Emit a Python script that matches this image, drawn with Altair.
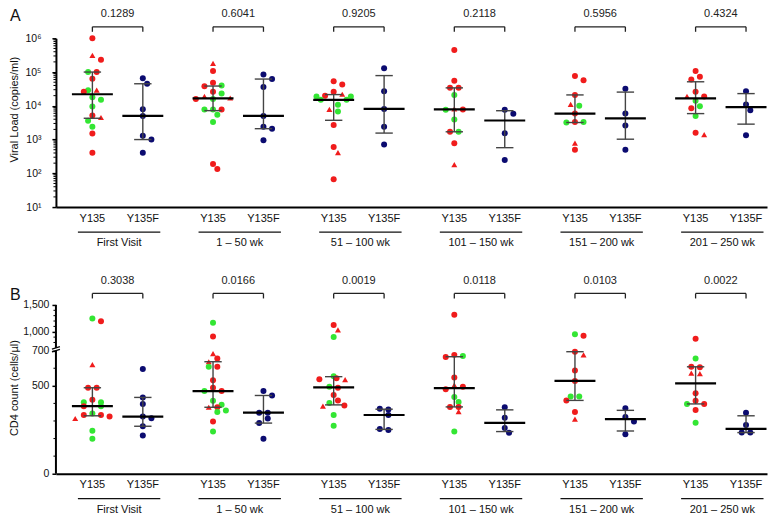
import numpy as np
import pandas as pd
import altair as alt

# ---------------- data ----------------
GROUPS = ["First Visit", "1 – 50 wk", "51 – 100 wk", "101 – 150 wk", "151 – 200 wk", "201 – 250 wk"]
CATS = ["Y135", "Y135F"]

# Panel A: viral load (copies/ml). kinds: r = red circle, t = red triangle, g = green circle
A_Y135 = [
    [1.0e6, 3.1e5, 2.3e5, 1.0e5, 1.0e5, 6.3e4, 2.9e4, 2.9e4, 2.6e4, 1.8e4, 1.5e4, 9.6e3, 5.2e3, 4.5e3, 3.6e3, 2.4e3, 1.5e3, 4.1e2],
    [1.8e5, 1.07e5, 4.8e4, 4.0e4, 3.8e4, 2.6e4, 2.3e4, 1.9e4, 1.6e4, 1.6e4, 1.7e4, 7.8e3, 7.8e3, 7.8e3, 5.4e3, 3.3e3, 1.9e2, 1.35e2],
    [5.3e4, 4.3e4, 2.6e4, 2.0e4, 1.9e4, 2.2e4, 1.9e4, 1.5e4, 1.5e4, 1.07e4, 7.8e3, 6.8e3, 2.7e3, 6.0e2, 4.1e2, 6.7e1],
    [4.5e5, 5.5e4, 3.4e4, 3.4e4, 2.1e4, 8.1e3, 7.8e3, 7.6e3, 3.9e3, 1.7e3, 1.7e3, 7.8e2, 1.8e2],
    [7.7e4, 5.7e4, 2.1e4, 1.1e4, 1.0e4, 5.9e3, 3.3e3, 3.2e3, 3.3e3, 7.8e2, 5.0e2],
    [1.07e5, 7.2e4, 6.0e4, 2.6e4, 1.9e4, 1.9e4, 1.4e4, 9.7e3, 8.5e3, 5.0e3, 1.6e3, 1.4e3],
]
A_Y135_KIND = [
    "rtrgrrgtrgggrtggrr",
    "trrgrrgtgrtgrgggrr",
    "rrrrgtggggtgrrtr",
    "rrrrgtrggrgrt",
    "rrrtgrrggtr",
    "rrrrrtggrgrt",
]
A_Y135F = [
    [6.5e4, 4.5e4, 7.9e3, 5.0e3, 1.3e3, 1.0e3, 4.1e2],
    [8.5e4, 6.2e4, 3.6e4, 5.0e3, 2.4e3, 2.1e3, 9.5e2],
    [1.3e5, 2.7e4, 8.1e3, 2.4e3, 7.1e2],
    [7.6e3, 5.8e3, 1.55e3, 2.5e2],
    [3.2e4, 5.9e3, 2.6e3, 5.0e2],
    [2.7e4, 1.1e4, 7.4e3, 1.35e3],
]
A_PVALUES = ["0.1289", "0.6041", "0.9205", "0.2118", "0.5956", "0.4324"]

# Panel B: CD4 count (cells/µl)
B_Y135 = [
    [1245, 1198, 620, 489, 489, 421, 406, 384, 384, 407, 334, 325, 314, 334, 343, 245, 199],
    [1167, 913, 683, 637, 655, 609, 609, 532, 489, 470, 470, 415, 393, 378, 378, 351, 360, 297, 240],
    [1125, 1035, 900, 555, 535, 537, 543, 494, 489, 448, 417, 402, 384, 388, 334, 273],
    [1318, 670, 664, 676, 547, 494, 504, 480, 436, 408, 380, 380, 353, 240],
    [955, 925, 676, 694, 587, 528, 439, 439, 417, 351, 310],
    [871, 655, 609, 606, 572, 569, 458, 415, 397, 397, 362, 290],
]
B_Y135_KIND = [
    "grtrrrgrggrrtrggg",
    "grttrgrrrrgggrtggrg",
    "rtggtrrgrrrgtrgg",
    "rgrrrrtrggrrtg",
    "grtrrrggrrt",
    "rgrrttrrrgrg",
]
B_Y135F = [
    [596, 434, 397, 325, 315, 270, 218],
    [471, 445, 347, 347, 314, 288, 199],
    [369, 365, 334, 255, 249],
    [378, 319, 260, 233],
    [373, 323, 297, 225],
    [347, 277, 234, 234],
]
B_PVALUES = ["0.3038", "0.0166", "0.0019", "0.0118", "0.0103", "0.0022"]

A_TICKS = [10, 100, 1000, 10000, 100000, 1000000]
A_MINOR = [k * 10 ** e for e in range(1, 6) for k in range(2, 10)]
B_TICKS = [0, 500, 700, 1000, 1500]
B_MINOR = [100, 200, 300, 400, 600, 800, 900, 1100, 1200, 1300, 1400]

# ---------------- styling / layout ----------------
RED, GREEN, NAVY, GRAY = "#f01c1c", "#33e633", "#0b0b70", "#444444"
FONT = "Liberation Sans"
W, HA, HB = 712, 169, 169
PPU = 50.5                      # pixels per x unit (distance Y135 -> Y135F)
STEP = 120.8 / PPU              # distance between groups
X_LO = -36.5 / PPU
XDOM = [X_LO, X_LO + W / PPU]

BRK_LO, BRK_GAP, BRK_K = 700.0, 16.0, 0.305


def disp(v):
    return v if v <= BRK_LO else BRK_LO + BRK_GAP + (v - BRK_LO) * BRK_K


B_TOP = round(disp(1500), 6)


def disp_expr(f):
    return (f"datum['{f}'] <= {BRK_LO} ? datum['{f}'] : "
            f"{BRK_LO + BRK_GAP} + (datum['{f}'] - {BRK_LO}) * {BRK_K}")


def px_a(v):
    return (6 - np.log10(v)) / 5 * HA


def px_b(v):
    return (B_TOP - disp(v)) / B_TOP * HB


def swarm(ypx, s=4.3, d=6.4):
    n = len(ypx)
    order = sorted(range(n), key=lambda i: ypx[i])
    placed, off = [], [0.0] * n
    for i in order:
        y = ypx[i]
        chosen, k = None, 0
        while chosen is None:
            cands = [0.0] if k == 0 else [k * s, -k * s]
            for c in cands:
                if all((c - px) ** 2 + (y - py) ** 2 >= d * d for px, py in placed):
                    chosen = c
                    break
            k += 1
        off[i] = chosen
        placed.append((chosen, y))
    rows = []
    for i in order:
        if rows and abs(ypx[i] - ypx[rows[-1][-1]]) < 1.5:
            rows[-1].append(i)
        else:
            rows.append([i])
    for r in rows:
        if len(r) > 1:
            m = float(np.mean([off[i] for i in r]))
            for i in r:
                off[i] -= m
    return off


def build(y135, kinds, y135f, to_px):
    pts, summ, caps = [], [], []
    for g in range(6):
        for c, (vals, kk) in enumerate([(y135[g], kinds[g]), (y135f[g], "n" * len(y135f[g]))]):
            base = g * STEP + c
            offs = swarm([to_px(v) for v in vals])
            for v, k, o in zip(vals, kk, offs):
                pts.append(dict(x=base + o / PPU, v=float(v), kind=k))
            a = np.asarray(vals, float)
            q1 = float(np.percentile(a, 25, method="weibull"))
            q3 = float(np.percentile(a, 75, method="weibull"))
            med = float(np.median(a))
            summ.append(dict(x=base, q1=q1, q3=q3, med=med,
                             mlo=base - 20.5 / PPU, mhi=base + 20.5 / PPU))
            for q in (q1, q3):
                caps.append(dict(clo=base - 8.7 / PPU, chi=base + 8.7 / PPU, q=q))
    return pd.DataFrame(pts), pd.DataFrame(summ), pd.DataFrame(caps)


ann = pd.DataFrame({
    "x1": [g * STEP for g in range(6)],
    "x2": [g * STEP + 1 for g in range(6)],
    "xm": [g * STEP + 0.5 for g in range(6)],
    "ulo": [g * STEP - 14.5 / PPU for g in range(6)],
    "uhi": [g * STEP + 1 + 17.5 / PPU for g in range(6)],
    "group": GROUPS,
})
ann["umid"] = (ann["ulo"] + ann["uhi"]) / 2
legs = pd.DataFrame({"x": [g * STEP + c for g in range(6) for c in range(2)],
                     "t": [CATS[c] for g in range(6) for c in range(2)]})

XS = alt.Scale(domain=XDOM, nice=False, zero=False)
XAXIS = alt.Axis(ticks=False, labels=False, title=None, domainWidth=2,
                 domainColor="black", grid=False)

sup = {1: "¹", 2: "²", 3: "³", 4: "⁴", 5: "⁵", 6: "⁶"}
labexpr_a = " : ".join(
    [f"round(log(datum.value)/LN10) == {e} ? '10{s}'" for e, s in sup.items()]) + " : ''"

YSCALE = {
    "A": alt.Scale(type="log", domain=[10, 1e6], nice=False),
    "B": alt.Scale(domain=[0, B_TOP], nice=False, zero=True),
}
YAXIS = {
    "A": alt.Axis(values=A_TICKS, labelExpr=labexpr_a, tickSize=4, tickWidth=1.5,
                  tickColor="black", domainWidth=2, domainColor="black", labelPadding=11,
                  labelFontSize=10.5, labelColor="#111", title="Viral Load (copies/ml)",
                  titleFontSize=11, titleFontWeight="normal", titleColor="#111",
                  titleX=-41.5, titleY=HA * 0.42, titleAlign="center", titleBaseline="middle",
                  grid=False),
    "B": alt.Axis(values=[round(disp(v), 6) for v in B_TICKS],
                  labelExpr=(f"datum.value <= {BRK_LO} ? format(datum.value, ',.0f') : "
                             f"format({BRK_LO} + (datum.value - {BRK_LO + BRK_GAP}) / {BRK_K}, ',.0f')"),
                  tickSize=4, tickWidth=1.5, tickColor="black", domain=False, labelPadding=3,
                  labelFontSize=10.5, labelColor="#111", title="CD4 count (cells/µl)",
                  titleFontSize=11, titleFontWeight="normal", titleColor="#111",
                  titleX=-41.5, titleY=HB * 0.49, titleAlign="center", titleBaseline="middle",
                  grid=False),
}


def fld(f, p):
    return f if p == "A" else f + "_d"


def tr(ch, fields, p):
    if p == "B":
        for f in fields:
            ch = ch.transform_calculate(**{f + "_d": disp_expr(f)})
    return ch


def xenc(f):
    return alt.X(f"{f}:Q", scale=XS, axis=XAXIS)


def yenc(f, p):
    return alt.Y(f"{fld(f, p)}:Q", scale=YSCALE[p], axis=YAXIS[p])


def panel(p, pts, summ, caps, pvals, H, minor, letter):
    ap = ann.assign(p=pvals)
    layers = []
    layers.append(tr(alt.Chart(pts).mark_point(filled=True, size=36, opacity=1), ["v"], p).encode(
        x=xenc("x"),
        y=yenc("v", p),
        color=alt.Color("kind:N", scale=alt.Scale(domain=["r", "t", "g", "n"],
                                                  range=[RED, RED, GREEN, NAVY]), legend=None),
        shape=alt.Shape("kind:N", scale=alt.Scale(domain=["r", "t", "g", "n"],
                                                  range=["circle", "triangle-up", "circle", "circle"]),
                        legend=None),
    ))
    layers.append(tr(alt.Chart(summ).mark_rule(color=GRAY, strokeWidth=1.4), ["q1", "q3"], p).encode(
        x=xenc("x"), y=yenc("q1", p), y2=alt.Y2(f"{fld('q3', p)}:Q")))
    layers.append(tr(alt.Chart(caps).mark_rule(color=GRAY, strokeWidth=1.4), ["q"], p).encode(
        x=xenc("clo"), x2="chi:Q", y=yenc("q", p)))
    layers.append(tr(alt.Chart(summ).mark_rule(color="black", strokeWidth=2.2), ["med"], p).encode(
        x=xenc("mlo"), x2="mhi:Q", y=yenc("med", p)))
    layers.append(tr(alt.Chart(pd.DataFrame({"m": minor})).mark_rule(color="black", strokeWidth=1), ["m"], p).encode(
        x=alt.value(-2.5), x2=alt.value(0), y=yenc("m", p)))
    # significance brackets and p-values
    layers.append(alt.Chart(ap).mark_rule(color="#222", strokeWidth=1.3).encode(
        x=xenc("x1"), x2="x2:Q", y=alt.value(-11.5)))
    layers.append(alt.Chart(legs).mark_rule(color="#222", strokeWidth=1.3).encode(
        x=xenc("x"), y=alt.value(-11.5), y2=alt.value(-6.5)))
    layers.append(alt.Chart(ap).mark_text(fontSize=11, font=FONT, color="#222").encode(
        x=xenc("xm"), y=alt.value(-24), text="p:N"))
    # category labels, underlines, group labels
    layers.append(alt.Chart(legs).mark_text(fontSize=11, font=FONT, color="#111").encode(
        x=xenc("x"), y=alt.value(H + 11.5), text="t:N"))
    layers.append(alt.Chart(ann).mark_rule(color="#111", strokeWidth=1.3).encode(
        x=xenc("ulo"), x2="uhi:Q", y=alt.value(H + 25)))
    layers.append(alt.Chart(ann).mark_text(fontSize=11, font=FONT, color="#111").encode(
        x=xenc("umid"), y=alt.value(H + 36), text="group:N"))
    layers.append(alt.Chart(pd.DataFrame({"t": [letter]})).mark_text(
        fontSize=16, font=FONT, align="left", baseline="alphabetic", color="#111").encode(
        text="t:N", x=alt.value(-46), y=alt.value(-17 if p == "A" else -5)))
    if p == "B":
        seg = pd.DataFrame({"a": [0.0, BRK_LO + BRK_GAP], "b": [BRK_LO, B_TOP]})
        layers.append(alt.Chart(seg).mark_rule(color="black", strokeWidth=2).encode(
            x=alt.value(0), y=alt.Y("a:Q", scale=YSCALE["B"], axis=YAXIS["B"]), y2="b:Q"))
        brk = pd.DataFrame({"ya": [BRK_LO - 7, BRK_LO + BRK_GAP - 7],
                            "yb": [BRK_LO + 7, BRK_LO + BRK_GAP + 7]})
        layers.append(alt.Chart(brk).mark_rule(color="black", strokeWidth=1.2).encode(
            x=alt.value(-4), x2=alt.value(4),
            y=alt.Y("ya:Q", scale=YSCALE["B"], axis=YAXIS["B"]), y2="yb:Q"))
    return alt.layer(*layers).properties(width=W, height=H)


ptsA, sumA, capA = build(A_Y135, A_Y135_KIND, A_Y135F, px_a)
ptsB, sumB, capB = build(B_Y135, B_Y135_KIND, B_Y135F, px_b)

chart = alt.vconcat(
    panel("A", ptsA, sumA, capA, A_PVALUES, HA, A_MINOR, "A"),
    panel("B", ptsB, sumB, capB, B_PVALUES, HB, B_MINOR, "B"),
    spacing=27,
).properties(
    padding={"left": 0, "top": 0, "right": 0, "bottom": 0}
).configure(font=FONT).configure_view(stroke=None).configure_axis(
    labelFont=FONT, titleFont=FONT, grid=False
)

chart.save("out.html", embed_options={"renderer": "svg", "actions": False})
